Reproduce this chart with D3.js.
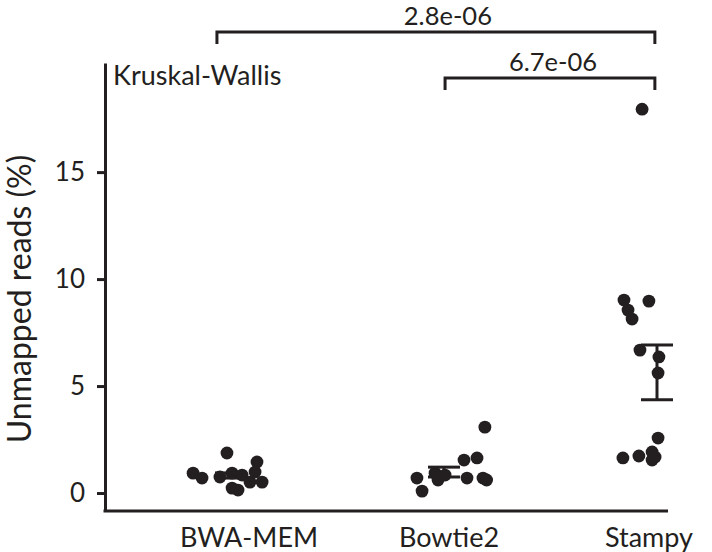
<!DOCTYPE html>
<html>
<head>
<meta charset="utf-8">
<script src="https://cdn.jsdelivr.net/npm/d3@7"></script>
<style>
  body { margin: 0; background: #fff; }
  text { font-family: Lato, "Open Sans", sans-serif; fill: #231f20; }
</style>
</head>
<body>
<svg id="chart"></svg>
<script>
const width = 712;
const height = 552;
const ink = "#231f20";

const groups = ["BWA-MEM", "Bowtie2", "Stampy"];
// jitter is horizontal offset in group units
const bwaJitter = [-0.178, -0.136, -0.019, -0.052, 0.005, 0.005, 0.052, 0.089, 0.122, 0.113, 0.146, 0.033];
const bwaValues = [0.93, 0.70, 1.87, 0.75, 0.93, 0.23, 0.84, 0.51, 1.45, 0.98, 0.51, 0.14];
const bowtieJitter = [0.192, 0.094, 0.155, -0.127, -0.103, -0.028, -0.042, 0.005, 0.108, 0.183, 0.2];
const bowtieValues = [3.08, 1.54, 1.64, 0.70, 0.09, 0.61, 0.93, 0.84, 0.70, 0.70, 0.61];
const stampyJitter = [-0.070, -0.155, -0.038, -0.136, -0.117, -0.080, 0.009, 0.005, 0.005, -0.160, -0.085, -0.023, -0.023, -0.009];
const stampyValues = [17.94, 9.02, 8.97, 8.55, 8.13, 6.68, 6.36, 5.61, 2.57, 1.64, 1.73, 1.92, 1.54, 1.68];
const groupMeans = [0.82, 0.98, 5.64];
const groupSems = [0.12, 0.23, 1.28];
const yTicks = [0, 5, 10, 15];
const brackets = [
  { from: -0.066, to: 1.99, label: "2.8e-06", level: 0 },
  { from: 1.005, to: 1.99, label: "6.7e-06", level: 1 }
];

const jitters = [bwaJitter, bowtieJitter, stampyJitter];
const values = [bwaValues, bowtieValues, stampyValues];
const points = [];
values.forEach((vals, g) => {
  vals.forEach((v, i) => points.push({ g: g, x: g + jitters[g][i], v: v }));
});

const svg = d3.select("#chart")
    .attr("width", width)
    .attr("height", height);

const x = d3.scaleLinear().domain([0, 2]).range([231, 657]);
const xLabel = d3.scalePoint().domain(groups).range([249, 649]);
const y = d3.scaleLinear().domain([-0.84, 20.1]).range([511, 63]);

// y axis
const yAxis = svg.append("g")
    .attr("transform", "translate(105,0)")
    .call(d3.axisLeft(y).tickValues(yTicks).tickSize(8).tickSizeOuter(0).tickPadding(12));
yAxis.select(".domain").attr("stroke", ink).attr("stroke-width", 3);
yAxis.selectAll(".tick line").attr("stroke", ink).attr("stroke-width", 3);
yAxis.selectAll(".tick text")
    .style("font-size", "26px")
    .style("font-family", "Lato, sans-serif")
    .attr("fill", ink);

// x axis line
svg.append("line")
    .attr("x1", 105 - 1.5)
    .attr("x2", 668)
    .attr("y1", y(-0.84))
    .attr("y2", y(-0.84))
    .attr("stroke", ink)
    .attr("stroke-width", 3);

svg.selectAll(".group-label")
    .data(groups)
    .join("text")
    .attr("class", "group-label")
    .attr("x", d => xLabel(d))
    .attr("y", 547)
    .attr("text-anchor", "middle")
    .style("font-size", "27px")
    .text(d => d);

svg.append("text")
    .attr("transform", `translate(31,${299}) rotate(-90)`)
    .attr("text-anchor", "middle")
    .style("font-size", "32px")
    .text("Unmapped reads (%)");

svg.append("text")
    .attr("x", 113)
    .attr("y", 85)
    .style("font-size", "27px")
    .text("Kruskal-Wallis");

// points
svg.append("g")
    .selectAll("circle")
    .data(points)
    .join("circle")
    .attr("cx", d => x(d.x))
    .attr("cy", d => y(d.v))
    .attr("r", 6.4)
    .attr("fill", ink);

// mean +/- SEM error bars
const capHalf = 0.075;
const eb = svg.append("g").attr("stroke", ink).attr("stroke-width", 3);
groups.forEach((name, g) => {
  const top = groupMeans[g] + groupSems[g];
  const bot = groupMeans[g] - groupSems[g];
  eb.append("line").attr("x1", x(g)).attr("x2", x(g)).attr("y1", y(top)).attr("y2", y(bot));
  eb.append("line").attr("x1", x(g - capHalf)).attr("x2", x(g + capHalf)).attr("y1", y(top)).attr("y2", y(top));
  eb.append("line").attr("x1", x(g - capHalf)).attr("x2", x(g + capHalf)).attr("y1", y(bot)).attr("y2", y(bot));
});

// significance brackets
const bracketTop = [32, 78];
const bracketDrop = 12;
brackets.forEach(b => {
  const yb = bracketTop[b.level];
  svg.append("path")
      .attr("d", `M${x(b.from)},${yb + bracketDrop}V${yb}H${x(b.to)}V${yb + bracketDrop}`)
      .attr("fill", "none")
      .attr("stroke", ink)
      .attr("stroke-width", 3);
  svg.append("text")
      .attr("x", (x(b.from) + x(b.to)) / 2 + (b.level === 0 ? 12 : 3))
      .attr("y", yb - 7)
      .attr("text-anchor", "middle")
      .style("font-size", "25.5px")
      .text(b.label);
});
</script>
</body>
</html>
